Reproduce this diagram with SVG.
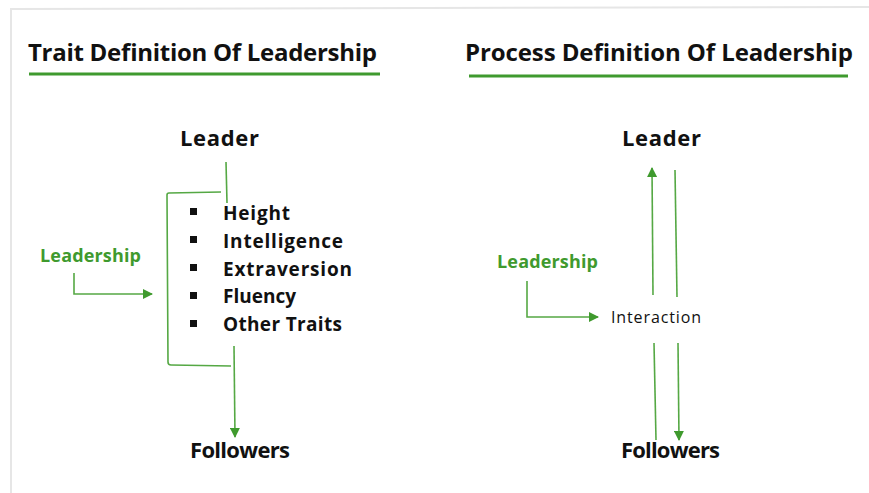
<svg xmlns="http://www.w3.org/2000/svg" width="869" height="493" viewBox="0 0 869 493">
<defs>
<marker id="ah" viewBox="0 0 10 10" refX="9" refY="5" markerWidth="10" markerHeight="10" markerUnits="userSpaceOnUse" orient="auto">
<path d="M0,0 L10,5 L0,10 Z" fill="#3f9a2e"/>
</marker>
<style>
.t{font-family:"Open Sans","Noto Sans",sans-serif;font-weight:700;fill:#111}
.title{font-size:24px}
.node{font-size:22px}
.item{font-size:19px}
.g{font-family:"Open Sans","Noto Sans",sans-serif;font-weight:700;fill:#3f9a2e;font-size:18px}
.c{fill:none;stroke:#55a844;stroke-width:1.6}
.ca{fill:none;stroke:#55a844;stroke-width:1.6;marker-end:url(#ah)}
.ul{stroke:#3f9a2e;stroke-width:3}
</style>
</defs>
<rect width="869" height="493" fill="#fff"/>
<path d="M11,493 L11,9 L869,7" fill="none" stroke="#e6e6e6" stroke-width="2"/>
<g id="title-trait">
<text class="t title" x="28" y="61" textLength="349">Trait Definition Of Leadership</text>
<line class="ul" x1="29" y1="74" x2="380" y2="74"/>
</g>
<g id="title-process">
<text class="t title" x="465" y="61" textLength="388">Process Definition Of Leadership</text>
<line class="ul" x1="469" y1="76" x2="848" y2="76"/>
</g>
<g id="leader-left"><text class="t node" x="180" y="146" textLength="79">Leader</text></g>
<g id="traits">
<rect x="190" y="208" width="7" height="7" fill="#111"/>
<rect x="190" y="236" width="7" height="7" fill="#111"/>
<rect x="190" y="264" width="7" height="7" fill="#111"/>
<rect x="190" y="292" width="7" height="7" fill="#111"/>
<rect x="190" y="320" width="7" height="7" fill="#111"/>
<text class="t item" x="223" y="220" textLength="67">Height</text>
<text class="t item" x="223" y="248" textLength="120">Intelligence</text>
<text class="t item" x="223" y="276" textLength="129">Extraversion</text>
<text class="t item" x="223" y="303" textLength="73">Fluency</text>
<text class="t item" x="223" y="331" textLength="119">Other Traits</text>
</g>
<g id="leadership-left"><text class="g" x="40" y="262" textLength="101">Leadership</text></g>
<g id="followers-left"><text class="t node" x="190" y="458" textLength="100">Followers</text></g>
<g id="leader-right"><text class="t node" x="622" y="146" textLength="79">Leader</text></g>
<g id="leadership-right"><text class="g" x="497" y="268" textLength="101">Leadership</text></g>
<g id="interaction"><text x="611" y="323" font-family="Open Sans, Noto Sans, sans-serif" font-size="16" fill="#111" textLength="90">Interaction</text></g>
<g id="followers-right"><text class="t node" x="621" y="458" textLength="99">Followers</text></g>
<g id="connectors">
<path class="c" d="M226,162 L227,203"/>
<path class="c" d="M221,192 L169,193 Q167,193 167,195 L168,362 Q168,365 171,365 L231,366"/>
<path class="ca" d="M234,346 L235,437"/>
<path class="ca" d="M74,273 L74,294 L152,294"/>
<path class="ca" d="M653,295 L652,168"/>
<path class="c" d="M675,170 L677,297"/>
<path class="ca" d="M527,281 L527,317 L598,317"/>
<path class="c" d="M654,343 L656,440"/>
<path class="ca" d="M678,343 L679,440"/>
</g>
</svg>
